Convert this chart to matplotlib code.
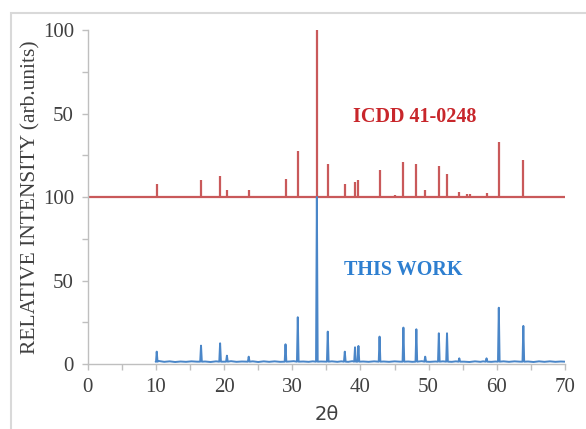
import numpy as np
import matplotlib.pyplot as plt
from matplotlib.patches import Rectangle

# ICDD 41-0248 reference sticks (2theta, relative intensity)
ref_pos = [10.1, 16.6, 19.4, 20.4, 23.6, 29.0, 30.8, 33.6, 35.2, 37.7, 39.2, 39.7,
           42.8, 45.1, 46.3, 48.2, 49.5, 51.5, 52.7, 54.5, 55.6, 56.1, 58.5, 60.3, 63.9]
ref_int = [7.5, 10, 12.5, 4, 4, 11, 27.5, 100, 19.5, 8, 9, 10,
           16, 1.5, 21, 20, 4, 18.5, 14, 3, 2, 2, 2.5, 33, 22]

# measured pattern: peaks and background
peak_pos = [10.1, 16.6, 19.4, 20.4, 23.6, 29.0, 30.8, 33.6, 35.2, 37.7, 39.2, 39.7,
            42.8, 46.3, 48.2, 49.5, 51.5, 52.7, 54.5, 58.5, 60.3, 63.9]
peak_int = [7.4, 11, 12.4, 5, 4.4, 11.8, 28, 100, 19.4, 7.4, 10, 10.8,
            16.4, 21.8, 20.8, 4.4, 18.4, 18.4, 3.4, 3.4, 33.7, 22.8]
bg_x = [10.4, 11.2, 12.0, 12.8, 13.6, 14.4, 15.2, 16.0, 17.2, 18.0, 18.8, 20.0,
        21.0, 21.8, 22.6, 23.2, 24.2, 25.0, 25.8, 26.6, 27.4, 28.2, 29.6, 30.2,
        31.6, 32.4, 33.0, 34.2, 34.8, 35.8, 36.6, 37.2, 38.2, 38.8, 40.4, 41.2,
        42.0, 43.4, 44.2, 45.0, 45.8, 47.0, 47.6, 49.0, 50.2, 51.0, 52.1, 53.4,
        54.0, 55.2, 56.0, 56.8, 57.6, 58.0, 59.2, 59.8, 61.0, 61.8, 62.6, 63.4,
        64.6, 65.4, 66.2, 67.0, 67.8, 68.6, 69.4, 70.0]
bg_y = [1.8, 1.3, 1.6, 1.2, 1.5, 1.3, 1.6, 1.4, 1.5, 1.2, 1.6, 1.4,
        1.7, 1.3, 1.5, 1.4, 1.6, 1.2, 1.6, 1.3, 1.6, 1.3, 1.5, 1.7,
        1.5, 1.3, 1.6, 1.5, 1.4, 1.6, 1.3, 1.6, 1.3, 1.7, 1.5, 1.3,
        1.6, 1.5, 1.3, 1.6, 1.4, 1.5, 1.3, 1.7, 1.3, 1.5, 1.6, 1.3,
        1.6, 1.4, 1.2, 1.6, 1.3, 1.6, 1.3, 1.5, 1.6, 1.3, 1.6, 1.4,
        1.5, 1.2, 1.6, 1.3, 1.6, 1.3, 1.5, 1.4]

offset = 100
yticks = [0, 50, 100, 150, 200]
ytick_labels = ['0', '50', '100', '50', '100']
xticks = [0, 10, 20, 30, 40, 50, 60, 70]

red = '#c9595a'
blue = '#4a86c8'
axc = '#bfbfbf'
txt = '#404040'

# build the measured trace from peak and background points
w = 0.12
tx, ty = list(bg_x), list(bg_y)
tx.insert(0, 10.0)
ty.insert(0, 1.5)
for p, h in zip(peak_pos, peak_int):
    tx += [p - w, p, p + w]
    ty += [1.4, h, 1.4]
order = np.argsort(tx)
tx = np.array(tx)[order]
ty = np.array(ty)[order]

fig = plt.figure(figsize=(5.86, 4.29), dpi=100)
ax = fig.add_axes([0.150, 0.1515, 0.814, 0.7785])

ax.vlines(ref_pos, offset, offset + np.array(ref_int), color=red, lw=1.6)
ax.plot([0, 70], [offset, offset], color=red, lw=1.6, solid_capstyle='butt')
ax.plot(tx, ty, color=blue, lw=1.4)

ax.text(48, 148, 'ICDD 41-0248', color='#c8262b', fontsize=14.5, fontweight='bold',
        family='Liberation Serif', ha='center', va='center')
ax.text(46.3, 56, 'THIS WORK', color='#2e7fd0', fontsize=14.5, fontweight='bold',
        family='Liberation Serif', ha='center', va='center')

ax.set_xlim(0, 70)
ax.set_ylim(0, 200)
ax.set_xticks(xticks)
ax.set_xticks(np.arange(0, 71, 5), minor=True)
ax.set_yticks(yticks)
ax.set_yticklabels(ytick_labels)
ax.set_yticks(np.arange(0, 201, 25), minor=True)
ax.tick_params(which='both', color=axc, labelcolor=txt, length=4, width=1, direction='out')
ax.tick_params(axis='both', labelsize=15, pad=6)
for lab in ax.get_xticklabels() + ax.get_yticklabels():
    lab.set_family('Liberation Serif')
for s in ['top', 'right']:
    ax.spines[s].set_visible(False)
for s in ['left', 'bottom']:
    ax.spines[s].set_color(axc)
    ax.spines[s].set_linewidth(1)

ax.set_ylabel('RELATIVE INTENSITY (arb.units)', family='Liberation Serif',
              fontsize=15.5, color=txt, labelpad=2)
ax.set_xlabel('2θ', fontsize=14, color=txt, labelpad=6)

fig.patches.append(Rectangle((0.019, -0.05), 1.1, 1.02, transform=fig.transFigure,
                             fill=False, edgecolor='#d9d9d9', lw=1.5))

fig.savefig('out.png', dpi=100)
